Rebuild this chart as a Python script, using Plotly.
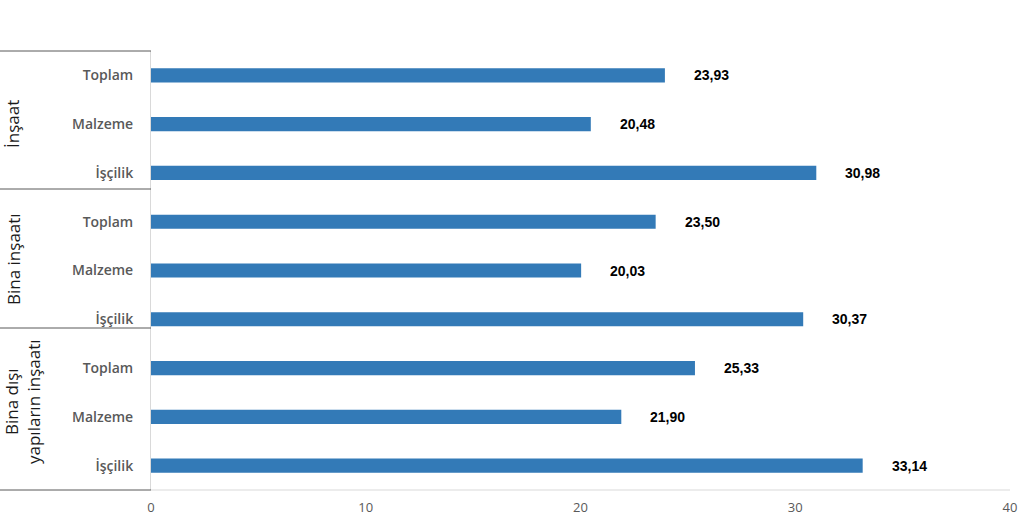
import plotly.graph_objects as go

groups = ["İnşaat", "Bina inşaatı", "Bina dışı<br>yapıların inşaatı"]
items = ["Toplam", "Malzeme", "İşçilik"]
values = [23.93, 20.48, 30.98, 23.50, 20.03, 30.37, 25.33, 21.90, 33.14]
x_ticks = [0, 10, 20, 30, 40]

cats = [it for g in groups for it in items]
ypos = list(range(len(cats)))
labels = [f"{v:.2f}".replace(".", ",") for v in values]

W, H = 1024, 526
L, R, T, B = 151, 14, 51, 36
pw = W - L - R
ph = H - T - B

fig = go.Figure()
fig.add_trace(go.Bar(
    x=values, y=ypos, orientation="h",
    marker=dict(color="#337ab7", line=dict(width=0)),
    width=0.29, hoverinfo="skip",
))

for v, y, t in zip(values, ypos, labels):
    fig.add_annotation(x=v, y=y, xref="x", yref="y", text=t, showarrow=False,
                       xanchor="left", yanchor="middle", xshift=27,
                       font=dict(family="Liberation Sans, Arial", size=14, color="#000000", weight="bold"))

def py(pix):
    return (H - B - pix) / ph

x0p = -L / pw
for pix in [51, 189, 328, 490]:
    fig.add_shape(type="line", xref="paper", yref="paper", x0=x0p, x1=0, y0=py(pix), y1=py(pix),
                  line=dict(color="#595959", width=1))

for g, cy in zip(groups, [124, 259, 402]):
    nlines = g.count("<br>") + 1
    cx = 13 if nlines == 1 else 22
    fig.add_annotation(xref="paper", yref="paper", x=x0p + cx / pw, y=py(cy), text=g,
                       showarrow=False, textangle=-90, xanchor="center", yanchor="middle",
                       font=dict(family="Open Sans", size=17, color="#1a1a1a"))

fig.update_layout(
    width=W, height=H,
    margin=dict(l=L, r=R, t=T, b=B, autoexpand=False),
    paper_bgcolor="white", plot_bgcolor="white",
    showlegend=False,
    xaxis=dict(range=[0, 40], tickvals=x_ticks, ticktext=[str(t) for t in x_ticks],
               showgrid=False, zeroline=False, showline=False, automargin=False,
               tickfont=dict(family="Open Sans", size=13, color="#595959"),
               ticklabelstandoff=8, fixedrange=True),
    yaxis=dict(range=[len(cats) - 0.5, -0.5], tickvals=ypos, ticktext=cats,
               showgrid=False, zeroline=False, showline=True, linecolor="#d9d9d9", linewidth=1,
               mirror=False, automargin=False,
               tickfont=dict(family="Open Sans", size=14, color="#595959", weight=600),
               ticklabelstandoff=14, fixedrange=True),
)
fig.add_shape(type="line", xref="paper", yref="paper", x0=0, x1=1, y0=0, y1=0,
              line=dict(color="#d9d9d9", width=1))

fig.write_html("out.html", config={"displayModeBar": False},
               post_script="document.body.style.margin='0';document.body.style.overflow='hidden';")
